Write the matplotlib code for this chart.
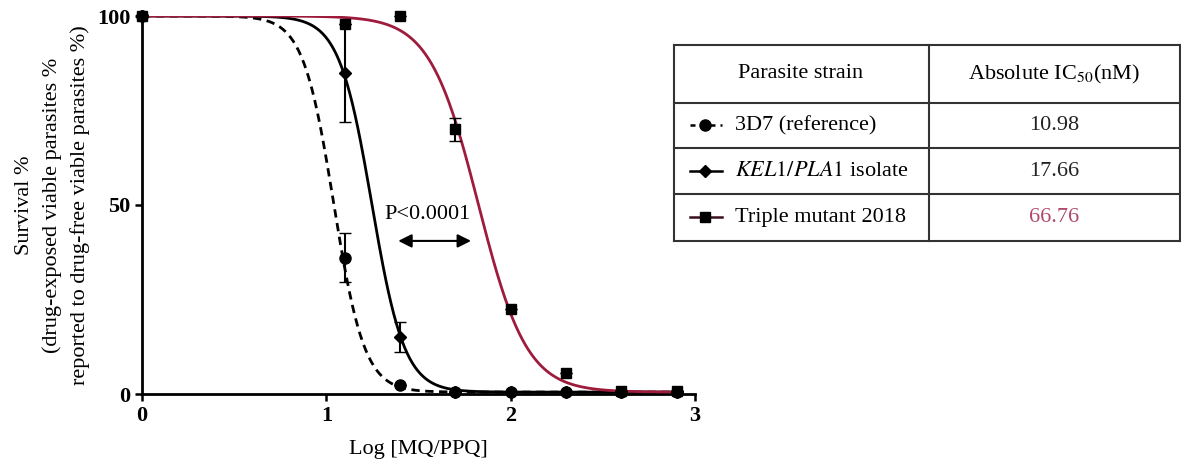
import numpy as np
import matplotlib.pyplot as plt

plt.rcParams['font.family'] = 'Liberation Serif'
plt.rcParams['mathtext.fontset'] = 'stix'

# Données
log_dose = [0, 1.1, 1.4, 1.7, 2.0, 2.3, 2.6, 2.9]
surv_3d7 = [100, 36, 2.5, 0.5, 0.5, 0.5, 0.5, 0.5]
err_3d7 = [0, 6.5, 0, 0, 0, 0, 0, 0]
surv_kel = [100, 85, 15, 0.5, 0.5, 0.5, 0.5, 0.5]
err_kel = [0, 13, 4, 0, 0, 0, 0, 0]
surv_triple = [100, 98, 100, 70, 22.5, 5.5, 0.8, 0.8]
err_triple = [0, 0, 0, 3, 0, 0, 0, 0]

souches = ['3D7 (reference)', r'$\it{KEL1/PLA1}$ isolate', 'Triple mutant 2018']
ic50 = [10.98, 17.66, 66.76]
hill = [5.2, 4.9, 3.3]
bas = 0.5

rouge = '#9e1b3c'
taille = 16

def courbe(x, ic, h):
    return bas + (100 - bas) / (1 + 10 ** (h * (x - np.log10(ic))))

fig = plt.figure(figsize=(11.81, 4.63), dpi=100)
ax = fig.add_axes([142/1181, 69/463, 553/1181, 378/463])

xx = np.linspace(0, 2.9, 400)
ax.plot(xx, courbe(xx, ic50[0], hill[0]), color='black', lw=2, ls=(0, (3, 2)), zorder=2)
ax.plot(xx, courbe(xx, ic50[1], hill[1]), color='black', lw=2, zorder=3)
ax.plot(xx, courbe(xx, ic50[2], hill[2]), color=rouge, lw=2, zorder=3)

ax.errorbar(log_dose, surv_3d7, yerr=err_3d7, fmt='o', color='black', ms=8,
            capsize=4, elinewidth=1.5, clip_on=False, zorder=5)
ax.errorbar(log_dose, surv_kel, yerr=err_kel, fmt='D', color='black', ms=6,
            capsize=4, elinewidth=1.5, clip_on=False, zorder=5)
ax.errorbar(log_dose, surv_triple, yerr=err_triple, fmt='s', color='black', ms=7,
            capsize=4, elinewidth=1.5, clip_on=False, zorder=5)

ax.annotate('', xy=(1.375, 40.5), xytext=(1.80, 40.5),
            arrowprops=dict(arrowstyle='<|-|>', color='black', lw=1.5, mutation_scale=20))
ax.text(1.55, 47.5, 'P<0.0001', ha='center', va='center', fontsize=taille)

ax.set_xlim(0, 3)
ax.set_ylim(0, 100)
ax.set_xticks([0, 1, 2, 3])
ax.set_yticks([0, 50, 100])
for s in ['top', 'right']:
    ax.spines[s].set_visible(False)
for s in ['left', 'bottom']:
    ax.spines[s].set_linewidth(2)
ax.tick_params(width=1.8, length=5, labelsize=taille)
for lab in ax.get_xticklabels() + ax.get_yticklabels():
    lab.set_fontweight('bold')
ax.set_xlabel('Log [MQ/PPQ]', fontsize=taille, labelpad=10)
ax.set_ylabel('Survival %\n(drug-exposed viable parasites %\nreported to drug-free viable parasites %)',
              fontsize=taille, labelpad=5, linespacing=1.55)

# Tableau des IC50
tab = fig.add_axes([674/1181, (463-241)/463, (1180-674)/1181, (241-45)/463])
tab.set_xlim(0, 506)
tab.set_ylim(196, 0)
tab.axis('off')
lignes_y = [0, 58, 103, 149, 196]
for y in lignes_y:
    tab.plot([0, 506], [y, y], color='#333333', lw=1.5, clip_on=False)
for x in [0, 255, 506]:
    tab.plot([x, x], [0, 196], color='#333333', lw=1.5, clip_on=False)
tab.text(127, 29, 'Parasite strain', ha='center', va='center', fontsize=taille)
tab.text(380, 29, r'Absolute IC$_{50}$(nM)', ha='center', va='center', fontsize=taille)

styles = [dict(ls=(0, (2, 2)), marker='o', ms=8, color='black'),
          dict(ls='-', marker='D', ms=6, color='black'),
          dict(ls='-', marker='s', ms=7, color='#3a1020', mfc='black', mec='black')]
couleurs_val = ['#222222', '#222222', '#b04a6a']
for i in range(3):
    yc = (lignes_y[i+1] + lignes_y[i+2]) / 2
    tab.plot([16, 31, 48], [yc, yc, yc], lw=1.8, markevery=[1], **styles[i])
    tab.text(61, yc, souches[i], ha='left', va='center', fontsize=taille)
    tab.text(380, yc, f'{ic50[i]:.2f}', ha='center', va='center', fontsize=taille,
             color=couleurs_val[i])

fig.savefig('out.png', dpi=100)
